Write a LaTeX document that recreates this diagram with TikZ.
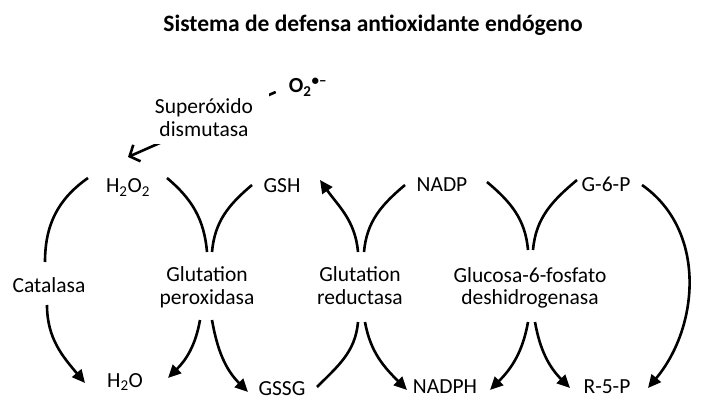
\documentclass[tikz,border=0pt]{standalone}
\usepackage{fontspec}
\setmainfont{Carlito}
\usetikzlibrary{arrows.meta}
\begin{document}
\begin{tikzpicture}[x=1pt,y=1pt,
		every node/.style={inner sep=0pt,font=\fontsize{21.5}{22.5}\selectfont},
		species/.style={anchor=base},
		enzyme/.style={align=center,text depth=5pt},
		flow/.style={line width=2.6pt},
		react/.style={flow,-{Triangle[length=13pt,width=12pt]}}]
			\useasboundingbox (0,0) rectangle (711,415);
			\node[anchor=base,font=\fontsize{23.5}{25}\selectfont\bfseries] (title) at (373,383) {Sistema de defensa antioxidante endógeno};
			\node[species,font=\fontsize{21.5}{22.5}\selectfont\bfseries] (o2) at (308,322) {O\textsubscript{2}\textsuperscript{•–}};
			\node[species] (h2o2) at (128,222) {H\textsubscript{2}O\textsubscript{2}};
			\node[species] (gsh) at (282,222) {GSH};
			\node[species] (nadp) at (442,223) {NADP};
			\node[species] (g6p) at (606,223) {G-6-P};
			\node[species] (cat) at (49,123) {Catalasa};
			\node[enzyme] (gpx) at (207,127) {Glutation\\peroxidasa};
			\node[enzyme] (gr) at (360,127) {Glutation\\reductasa};
			\node[enzyme] (g6pd) at (530,126.5) {Glucosa-6-fosfato\\deshidrogenasa};
			\node[species] (h2o) at (125,28) {H\textsubscript{2}O};
			\node[species] (gssg) at (282,20) {GSSG};
			\node[species] (nadph) at (445,22) {NADPH};
			\node[species] (r5p) at (607,22) {R-5-P};
			\draw[flow,-{Straight Barb[length=8pt,width=18pt]}] ([shift={(-13,1)}]o2.base west) -- ([shift={(0,36)}]h2o2.base);
			\node[align=center,fill=white,inner xsep=16pt,inner ysep=8pt] (sod) at (204,297.5) {Superóxido\\dismutasa};
			\draw[flow] ([shift={(-40,15)}]h2o2.base) to[out=215,in=90] ([shift={(-4,30)}]cat.base);
			\draw[react] ([shift={(-2,-13)}]cat.base) to[out=-90,in=130] ([shift={(-40,4)}]h2o.base);
			\draw[flow] ([shift={(39,15)}]h2o2.base) to[out=-40,in=95] ([shift={(0,36)}]gpx.center);
			\draw[flow] ([shift={(-30,8)}]gsh.base) to[out=220,in=85] ([shift={(5,36)}]gpx.center);
			\draw[react] ([shift={(-7,-32)}]gpx.center) to[out=-100,in=45] ([shift={(43,9)}]h2o.base);
			\draw[react] ([shift={(5,-32)}]gpx.center) to[out=-80,in=135] ([shift={(-34,3)}]gssg.base);
			\draw[flow] ([shift={(35,8)}]gssg.base) to[out=45,in=-95] ([shift={(-2,-34)}]gr.center);
			\draw[react] ([shift={(-2,36)}]gr.center) to[out=95,in=-55] ([shift={(38,13)}]gsh.base);
			\draw[flow] ([shift={(-37,7)}]nadp.base) to[out=220,in=85] ([shift={(4,36)}]gr.center);
			\draw[react] ([shift={(5,-34)}]gr.center) to[out=-80,in=135] ([shift={(-38,3)}]nadph.base);
			\draw[flow] ([shift={(45,10)}]nadp.base) to[out=-40,in=95] ([shift={(-2,38.5)}]g6pd.center);
			\draw[flow] ([shift={(-29,12)}]g6p.base) to[out=220,in=85] ([shift={(3,38.5)}]g6pd.center);
			\draw[react] ([shift={(-2,-33.5)}]g6pd.center) to[out=-100,in=45] ([shift={(45,3)}]nadph.base);
			\draw[react] ([shift={(5,-33.5)}]g6pd.center) to[out=-80,in=135] ([shift={(-37,5)}]r5p.base);
			\draw[react] ([shift={(36,7)}]g6p.base) to[out=-35,in=50] ([shift={(41,5)}]r5p.base);
		\end{tikzpicture}
\end{document}
